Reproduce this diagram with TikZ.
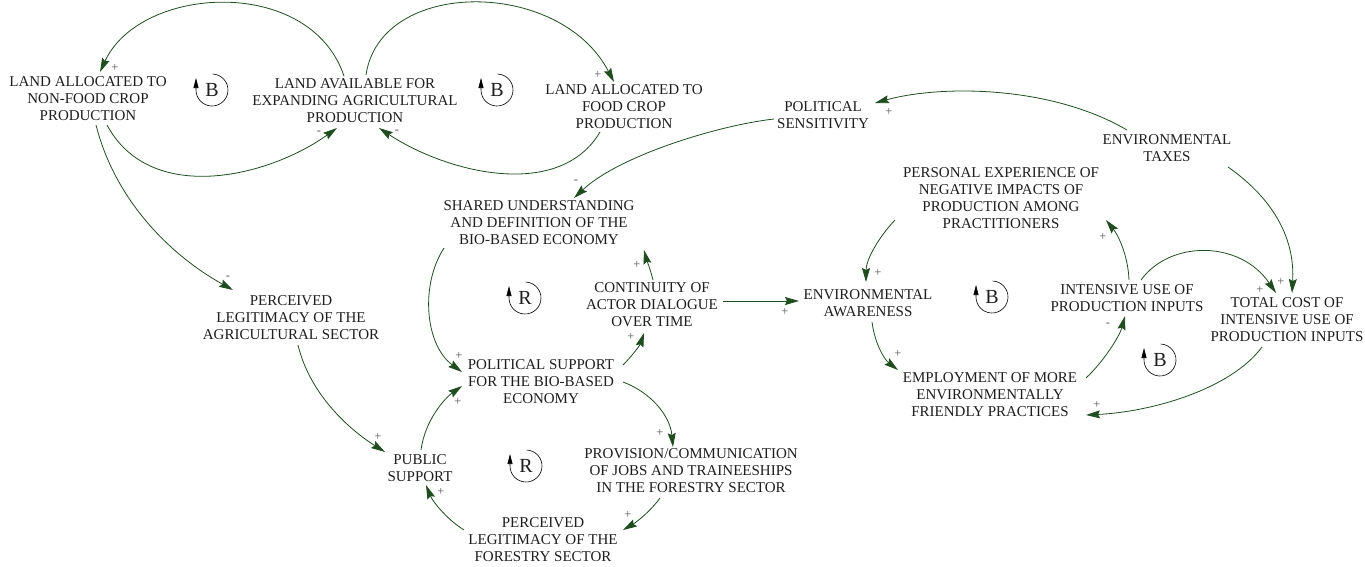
\documentclass[tikz,border=0pt]{standalone}
\usepackage{fontspec}
\setmainfont{Liberation Serif}
\usetikzlibrary{arrows.meta}
\definecolor{lnk}{RGB}{31,77,31}
\definecolor{txt}{RGB}{30,30,30}
\definecolor{pol}{RGB}{85,85,85}
\begin{document}
\begin{tikzpicture}[x=1pt,y=-1pt,
  lbl/.style={font=\fontsize{15}{17}\selectfont, align=center, inner sep=0pt, text=txt},
  link/.style={draw=lnk, line width=0.8pt, -{Stealth[length=14pt,width=8pt,inset=2pt]}},
  pm/.style={font=\fontsize{12.5}{12.5}\selectfont, text=pol, inner sep=0pt},
  looplbl/.style={font=\fontsize{20}{20}\selectfont, inner sep=0pt, text=txt},
  looparc/.style={draw=black, line width=0.6pt, -{Triangle[length=10pt,width=5pt]}}]
\useasboundingbox (0,0) rectangle (1365,566);

% variables
\node[lbl] (nonfood)   at (88,99)   {LAND ALLOCATED TO\\NON-FOOD CROP\\PRODUCTION};
\node[lbl] (avail)     at (355,101) {LAND AVAILABLE FOR\\EXPANDING AGRICULTURAL\\PRODUCTION};
\node[lbl] (food)      at (624,107) {LAND ALLOCATED TO\\FOOD CROP\\PRODUCTION};
\node[lbl] (polsens)   at (823,115) {POLITICAL\\SENSITIVITY};
\node[lbl] (envtax)    at (1167,148) {ENVIRONMENTAL\\TAXES};
\node[lbl] (personal)  at (1001,198) {PERSONAL EXPERIENCE OF\\NEGATIVE IMPACTS OF\\PRODUCTION AMONG\\PRACTITIONERS};
\node[lbl] (shared)    at (539,223) {SHARED UNDERSTANDING\\AND DEFINITION OF THE\\BIO-BASED ECONOMY};
\node[lbl] (contin)    at (652,305) {CONTINUITY OF\\ACTOR DIALOGUE\\OVER TIME};
\node[lbl] (envaw)     at (868,303) {ENVIRONMENTAL\\AWARENESS};
\node[lbl] (intens)    at (1127,298) {INTENSIVE USE OF\\PRODUCTION INPUTS};
\node[lbl] (total)     at (1287,320) {TOTAL COST OF\\INTENSIVE USE OF\\PRODUCTION INPUTS};
\node[lbl] (percagri)  at (291,318) {PERCEIVED\\LEGITIMACY OF THE\\AGRICULTURAL SECTOR};
\node[lbl] (polsup)    at (541,382) {POLITICAL SUPPORT\\FOR THE BIO-BASED\\ECONOMY};
\node[lbl] (employ)    at (990,395) {EMPLOYMENT OF MORE\\ENVIRONMENTALLY\\FRIENDLY PRACTICES};
\node[lbl] (public)    at (420,468) {PUBLIC\\SUPPORT};
\node[lbl] (provision) at (691,471) {PROVISION/COMMUNICATION\\OF JOBS AND TRAINEESHIPS\\IN THE FORESTRY SECTOR};
\node[lbl] (percfor)   at (543,540) {PERCEIVED\\LEGITIMACY OF THE\\FORESTRY SECTOR};

% links
\draw[link] ([shift={(-11,-25)}]avail.center) .. controls (310,-25) and (140,-15) .. ([shift={(12,-27)}]nonfood.center);
\draw[link] ([shift={(19,26)}]nonfood.center) .. controls (150,205) and (267,178) .. ([shift={(-18,27)}]avail.center);
\draw[link] ([shift={(11,-26)}]avail.center) .. controls (380,-22) and (560,-22) .. ([shift={(-10,-25)}]food.center);
\draw[link] ([shift={(-24,25)}]food.center) .. controls (560,200) and (449,174) .. ([shift={(24,27)}]avail.center);
\draw[link] ([shift={(8,26)}]nonfood.center) .. controls (115,200) and (170,255) .. ([shift={(-58,-28)}]percagri.center);
\draw[link] ([shift={(-49,4)}]polsens.center) .. controls (720,125) and (620,155) .. ([shift={(35,-25)}]shared.center);
\draw[link] ([shift={(-40,-18)}]envtax.center) .. controls (1050,85) and (940,85) .. ([shift={(52,-12)}]polsens.center);
\draw[link] ([shift={(61,19)}]envtax.center) .. controls (1275,200) and (1295,240) .. ([shift={(5,-27)}]total.center);
\draw[link] ([shift={(14,-18)}]intens.center) .. controls (1170,240) and (1240,240) .. ([shift={(-11,-27)}]total.center);
\draw[link] ([shift={(2,-18)}]intens.center) .. controls (1128,255) and (1118,235) .. ([shift={(105,22)}]personal.center);
\draw[link] ([shift={(-106,22)}]personal.center) .. controls (878,238) and (866,260) .. ([shift={(-2,-21)}]envaw.center);
\draw[link] ([shift={(71,-4)}]contin.center) -- ([shift={(-69,-2)}]envaw.center);
\draw[link] ([shift={(4,19)}]envaw.center) .. controls (875,345) and (885,360) .. ([shift={(-92,-25)}]employ.center);
\draw[link] ([shift={(96,-17)}]employ.center) .. controls (1105,360) and (1120,335) .. ([shift={(-2,18)}]intens.center);
\draw[link] ([shift={(-25,27)}]total.center) .. controls (1230,390) and (1150,412) .. ([shift={(96,20)}]employ.center);
\draw[link] ([shift={(-95,25)}]shared.center) .. controls (420,285) and (425,345) .. ([shift={(-79,-10)}]polsup.center);
\draw[link] ([shift={(1,-25)}]contin.center) .. controls (650,268) and (646,258) .. ([shift={(105,27)}]shared.center);
\draw[link] ([shift={(82,-17)}]polsup.center) .. controls (632,356) and (640,345) .. ([shift={(-8,28)}]contin.center);
\draw[link] ([shift={(82,0)}]polsup.center) .. controls (650,392) and (670,415) .. ([shift={(-18,-24)}]provision.center);
\draw[link] ([shift={(-31,27)}]provision.center) .. controls (650,512) and (635,523) .. ([shift={(80,-10)}]percfor.center);
\draw[link] ([shift={(-79,-10)}]percfor.center) .. controls (445,518) and (432,500) .. ([shift={(6,17)}]public.center);
\draw[link] ([shift={(1,-18)}]public.center) .. controls (425,420) and (445,398) .. ([shift={(-79,4)}]polsup.center);
\draw[link] ([shift={(7,27)}]percagri.center) .. controls (310,395) and (350,430) .. ([shift={(-35,-16)}]public.center);

% polarities
\node[pm] (s1)  at (115,68)  {+};
\node[pm] (s2)  at (319,133) {-};
\node[pm] (s3)  at (598,75)  {+};
\node[pm] (s4)  at (397,132) {-};
\node[pm] (s5)  at (228,278) {-};
\node[pm] (s6)  at (576,182) {-};
\node[pm] (s7)  at (889,112) {+};
\node[pm] (s8)  at (1281,282) {+};
\node[pm] (s9)  at (1260,290) {+};
\node[pm] (s10) at (1103,237) {+};
\node[pm] (s11) at (878,273) {+};
\node[pm] (s12) at (785,312) {+};
\node[pm] (s13) at (898,354) {+};
\node[pm] (s14) at (1108,325) {-};
\node[pm] (s15) at (1097,405) {+};
\node[pm] (s16) at (459,356) {+};
\node[pm] (s17) at (637,265) {+};
\node[pm] (s18) at (631,337) {+};
\node[pm] (s19) at (660,433) {+};
\node[pm] (s20) at (628,515) {+};
\node[pm] (s21) at (441,492) {+};
\node[pm] (s22) at (458,402) {+};
\node[pm] (s23) at (378,437) {+};

% loop symbols
\foreach \nm/\px/\py/\lt in {lb1/212/90/B, lb2/497/90/B, lr1/525/298/R, lr2/526/466/R, lb3/992/297/B, lb4/1160/360/B}{
  \node[looplbl] (\nm) at (\px,\py) {\lt};
  \draw[looparc] ([shift={(-88:16)}]\nm.center) arc[start angle=-88, end angle=180, radius=16] -- ++(0,-12);
}
\end{tikzpicture}
\end{document}
